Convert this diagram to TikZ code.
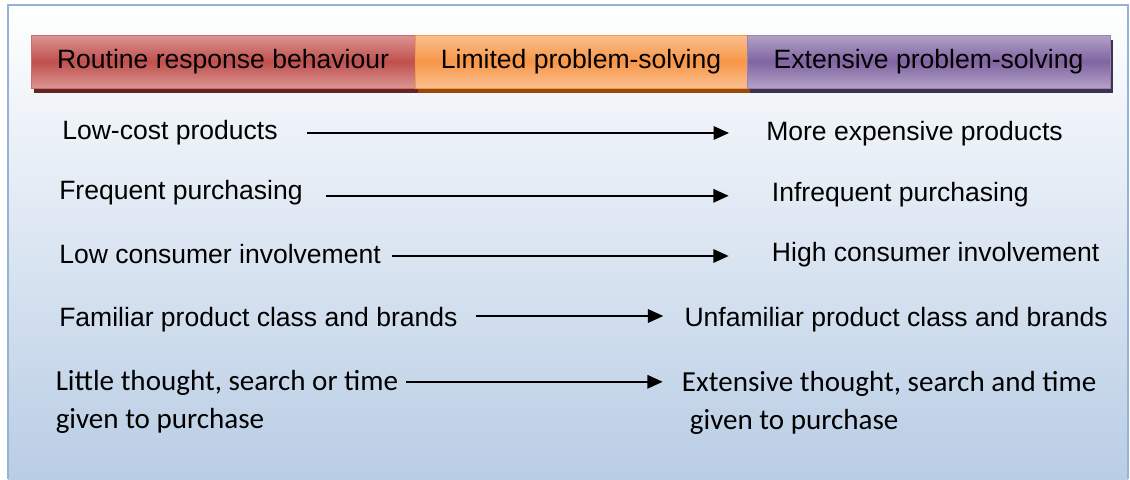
\documentclass[tikz,border=0pt]{standalone}
\usepackage{fontspec}
\setmainfont{Liberation Sans}
\newfontfamily\calib{Carlito}
\usetikzlibrary{arrows.meta,calc,shadows}
\definecolor{bgblue}{HTML}{B9CDE5}
\definecolor{bgline}{HTML}{95B3D7}
\definecolor{redmid}{HTML}{C0504D}
\definecolor{redlight}{HTML}{DA9593}
\definecolor{redline}{HTML}{D36A67}
\definecolor{redshadow}{HTML}{632523}
\definecolor{ormid}{HTML}{F79646}
\definecolor{orlight}{HTML}{FAC090}
\definecolor{orline}{HTML}{F79646}
\definecolor{orshadow}{HTML}{984807}
\definecolor{pumid}{HTML}{8064A2}
\definecolor{pulight}{HTML}{B3A2C7}
\definecolor{puline}{HTML}{9782B6}
\definecolor{pushadow}{HTML}{3F3151}
\begin{document}
\begin{tikzpicture}[x=0.75pt,y=-0.75pt,
  ar/.style={font=\fontsize{19.9}{24}\selectfont, inner sep=0pt, anchor=base west},
  cb/.style={font=\calib\fontsize{21.8}{28.5}\selectfont, inner sep=0pt, anchor=base west, align=left},
  hdr/.style={font=\fontsize{19.9}{24}\selectfont, inner sep=0pt, minimum height=39.75pt, line width=0.75pt},
  arr/.style={line width=1.6pt, -{Triangle[length=11.5pt,width=10pt]}}]
\useasboundingbox (0,0) rectangle (1130,479);
% background panel
\shade[top color=white, bottom color=bgblue] (8,5) rectangle (1128,479);
\draw[bgline, line width=1.5pt] (8,479) -- (8,5) -- (1128,5) -- (1128,479);
% header boxes
\node[hdr, minimum width=288pt, draw=redline, top color=redlight, bottom color=redlight, middle color=redmid,
  drop shadow={shadow xshift=2.25pt, shadow yshift=-3.75pt, fill=redshadow, opacity=1}]
  (h1) at (223,61.5) {Routine response behaviour};
\node[hdr, minimum width=249pt, draw=orline, top color=orlight, bottom color=orlight, middle color=ormid,
  drop shadow={shadow xshift=2.25pt, shadow yshift=-3.75pt, fill=orshadow, opacity=1}]
  (h2) at (581,61.5) {Limited problem-solving};
\node[hdr, minimum width=272.25pt, draw=puline, top color=pulight, bottom color=pulight, middle color=pumid,
  drop shadow={shadow xshift=2.25pt, shadow yshift=-3.75pt, fill=pushadow, opacity=1}]
  (h3) at (928.5,61.5) {Extensive problem-solving};
% left texts
\node[ar] (l1) at (62,139.3) {Low-cost products};
\node[ar] (l2) at (59,199.3) {Frequent purchasing};
\node[ar] (l3) at (59,263.5) {Low consumer involvement};
\node[ar] (l4) at (59,326) {Familiar product class and brands};
\node[cb] (l5) at (55.5,428.8) {Little thought, search or time\\given to purchase};
% right texts
\node[ar] (r1) at (766,140) {More expensive products};
\node[ar] (r2) at (771.7,201) {Infrequent purchasing};
\node[ar] (r3) at (771.7,261.7) {High consumer involvement};
\node[ar] (r4) at (684.3,326) {Unfamiliar product class and brands};
\node[cb] (r5) at (681.7,429.5) {Extensive thought, search and time\\\hspace*{6pt}given to purchase};
% arrows
\coordinate (s1) at ($(l1.base east)+(29,-6.3)$);
\coordinate (s2) at ($(l2.base east)+(23,-3.5)$);
\coordinate (s3) at ($(l3.base east)+(11,-7.5)$);
\coordinate (s4) at ($(l4.base east)+(18,-10)$);
\coordinate (s5) at ($(l5.base east)+(8,-47)$);
\draw[arr, shorten >=27.75pt] (s1) -- (s1 -| r1.west);
\draw[arr, shorten >=32.25pt] (s2) -- (s2 -| r2.west);
\draw[arr, shorten >=32.25pt] (s3) -- (s3 -| r3.west);
\draw[arr, shorten >=15.75pt] (s4) -- (s4 -| r4.west);
\draw[arr, shorten >=14.25pt] (s5) -- (s5 -| r5.west);
\end{tikzpicture}
\end{document}
